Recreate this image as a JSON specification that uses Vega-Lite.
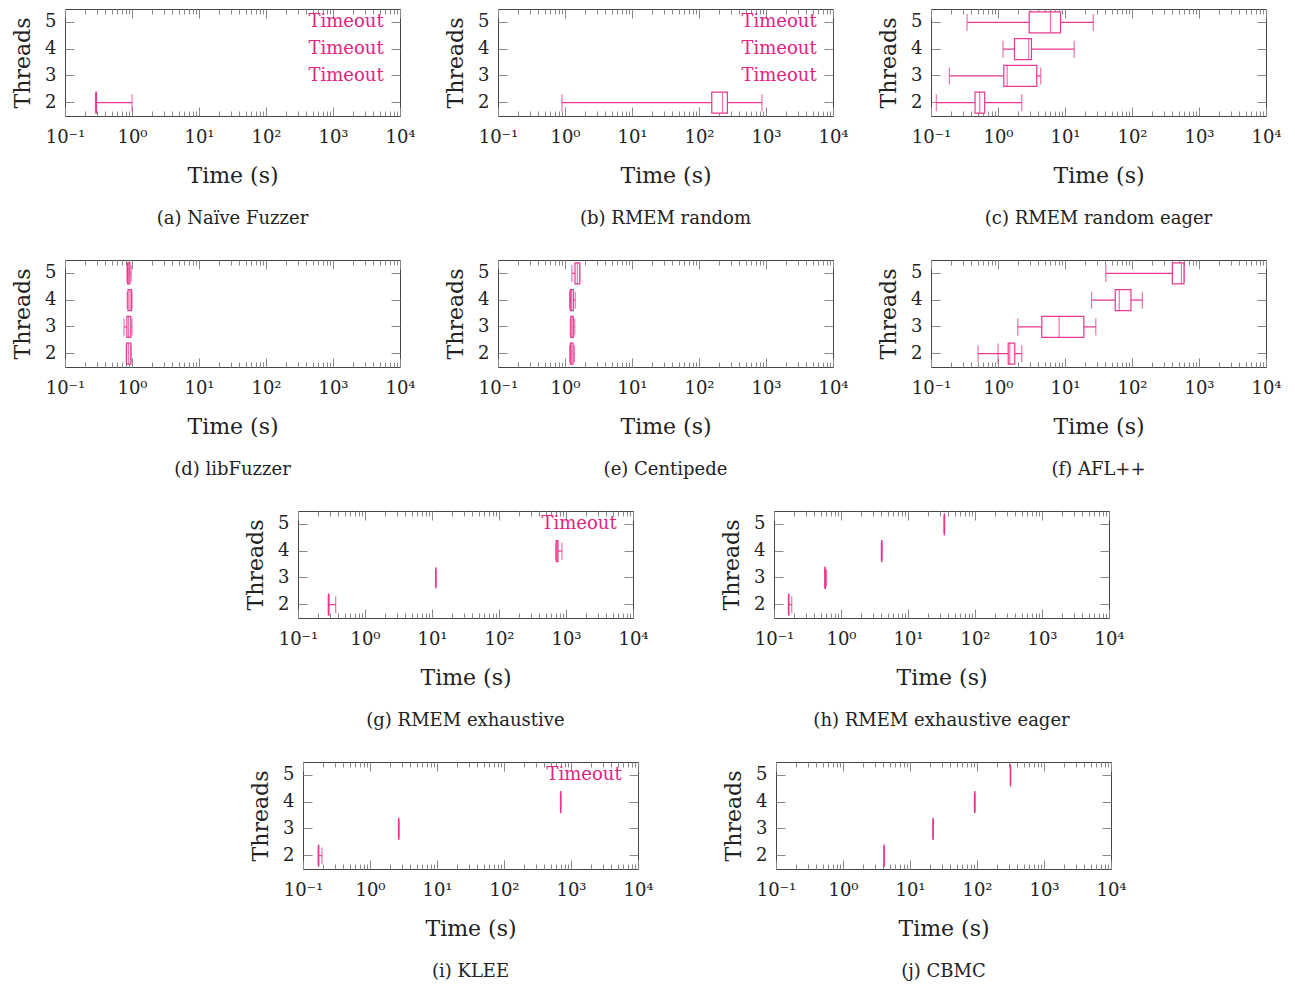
{
"$schema": "https://vega.github.io/schema/vega-lite/v6.json",
"padding": {"left": 11, "top": 8, "right": 5, "bottom": 5},
"background": "white",
"config": {
  "font": "DejaVu Serif",
  "view": {"stroke": "#444", "strokeWidth": 1},
  "axis": {"labelFont": "DejaVu Serif", "titleFont": "DejaVu Serif", "labelFontSize": 18, "titleFontSize": 22, "titleFontWeight": "normal", "labelColor": "#222", "titleColor": "#222", "tickColor": "#888", "domain": false, "grid": false},
  "title": {"font": "DejaVu Serif", "fontSize": 18, "fontWeight": "normal", "orient": "bottom", "anchor": "middle", "frame": "group", "color": "#222", "offset": 24}
},
"datasets": {
  "box": [
    {"panel": "a", "threads": 2, "lw": 0.285, "q1": 0.29, "med": 0.29, "q3": 0.295, "uw": 1.0},
    {"panel": "b", "threads": 2, "lw": 0.9, "q1": 155, "med": 224, "q3": 265, "uw": 870},
    {"panel": "c", "threads": 5, "lw": 0.345, "q1": 2.92, "med": 6.07, "q3": 8.57, "uw": 26.4},
    {"panel": "c", "threads": 4, "lw": 1.19, "q1": 1.76, "med": 2.88, "q3": 3.16, "uw": 13.7},
    {"panel": "c", "threads": 3, "lw": 0.188, "q1": 1.22, "med": 1.37, "q3": 3.79, "uw": 4.35},
    {"panel": "c", "threads": 2, "lw": 0.12, "q1": 0.454, "med": 0.533, "q3": 0.633, "uw": 2.26},
    {"panel": "d", "threads": 5, "lw": 0.84, "q1": 0.86, "med": 0.89, "q3": 0.93, "uw": 0.97},
    {"panel": "d", "threads": 4, "lw": 0.85, "q1": 0.87, "med": 0.93, "q3": 0.98, "uw": 1.0},
    {"panel": "d", "threads": 3, "lw": 0.76, "q1": 0.84, "med": 0.89, "q3": 0.96, "uw": 1.0},
    {"panel": "d", "threads": 2, "lw": 0.82, "q1": 0.83, "med": 0.89, "q3": 0.96, "uw": 0.97},
    {"panel": "e", "threads": 5, "lw": 1.27, "q1": 1.41, "med": 1.53, "q3": 1.66, "uw": 1.66},
    {"panel": "e", "threads": 4, "lw": 1.17, "q1": 1.2, "med": 1.25, "q3": 1.33, "uw": 1.42},
    {"panel": "e", "threads": 3, "lw": 1.2, "q1": 1.22, "med": 1.27, "q3": 1.33, "uw": 1.4},
    {"panel": "e", "threads": 2, "lw": 1.18, "q1": 1.2, "med": 1.25, "q3": 1.32, "uw": 1.38},
    {"panel": "f", "threads": 5, "lw": 40.7, "q1": 400, "med": 546, "q3": 597, "uw": 600},
    {"panel": "f", "threads": 4, "lw": 24.9, "q1": 56.2, "med": 64.6, "q3": 96.4, "uw": 142.6},
    {"panel": "f", "threads": 3, "lw": 1.97, "q1": 4.5, "med": 8.18, "q3": 19.1, "uw": 28.8},
    {"panel": "f", "threads": 2, "lw": 0.504, "q1": 1.42, "med": 1.5, "q3": 1.78, "uw": 2.26},
    {"panel": "g", "threads": 2, "lw": 0.284, "q1": 0.285, "med": 0.285, "q3": 0.29, "uw": 0.365},
    {"panel": "g", "threads": 3, "lw": 11.3, "q1": 11.4, "med": 11.4, "q3": 11.4, "uw": 11.5},
    {"panel": "g", "threads": 4, "lw": 705, "q1": 715, "med": 740, "q3": 760, "uw": 870},
    {"panel": "h", "threads": 2, "lw": 0.164, "q1": 0.165, "med": 0.165, "q3": 0.167, "uw": 0.184},
    {"panel": "h", "threads": 3, "lw": 0.571, "q1": 0.575, "med": 0.58, "q3": 0.585, "uw": 0.61},
    {"panel": "h", "threads": 4, "lw": 4.0, "q1": 4.03, "med": 4.05, "q3": 4.07, "uw": 4.1},
    {"panel": "h", "threads": 5, "lw": 34.5, "q1": 34.8, "med": 34.9, "q3": 35.0, "uw": 35.3},
    {"panel": "i", "threads": 2, "lw": 0.169, "q1": 0.17, "med": 0.17, "q3": 0.172, "uw": 0.192},
    {"panel": "i", "threads": 3, "lw": 2.65, "q1": 2.67, "med": 2.68, "q3": 2.69, "uw": 2.71},
    {"panel": "i", "threads": 4, "lw": 695, "q1": 700, "med": 701, "q3": 703, "uw": 708},
    {"panel": "j", "threads": 2, "lw": 4.08, "q1": 4.1, "med": 4.12, "q3": 4.14, "uw": 4.16},
    {"panel": "j", "threads": 3, "lw": 22.0, "q1": 22.1, "med": 22.1, "q3": 22.2, "uw": 22.3},
    {"panel": "j", "threads": 4, "lw": 91, "q1": 92, "med": 92, "q3": 93, "uw": 93.5},
    {"panel": "j", "threads": 5, "lw": 314, "q1": 316, "med": 316, "q3": 317, "uw": 318}
  ],
  "timeout": [
    {"panel": "a", "threads": 5, "label": "Timeout"},
    {"panel": "a", "threads": 4, "label": "Timeout"},
    {"panel": "a", "threads": 3, "label": "Timeout"},
    {"panel": "b", "threads": 5, "label": "Timeout"},
    {"panel": "b", "threads": 4, "label": "Timeout"},
    {"panel": "b", "threads": 3, "label": "Timeout"},
    {"panel": "g", "threads": 5, "label": "Timeout"},
    {"panel": "i", "threads": 5, "label": "Timeout"}
  ],
  "outlier": [
    {"panel": "f", "threads": 2, "value": 1.0}
  ]
},
"spacing": 30,
"vconcat": [
{"hconcat": [
{"width": 335, "height": 107, "title": "(a) Naïve Fuzzer", "data": {"name": "box"}, "transform": [{"filter": "datum.panel == 'a'"}],
 "layer": [
  {"mark": {"type": "rule", "color": "#e8388f", "strokeWidth": 1.2}, "encoding": {"x": {"field": "lw", "type": "quantitative", "scale": {"type": "log", "domain": [0.1, 10000], "nice": false}, "axis": {"orient": "bottom", "values": [0.1,0.2,0.3,0.4,0.5,0.6,0.7,0.8,0.9,1,2,3,4,5,6,7,8,9,10,20,30,40,50,60,70,80,90,100,200,300,400,500,600,700,800,900,1000,2000,3000,4000,5000,6000,7000,8000,9000,10000], "labelExpr": "datum.value == 0.1 ? '10⁻¹' : datum.value == 1 ? '10⁰' : datum.value == 10 ? '10¹' : datum.value == 100 ? '10²' : datum.value == 1000 ? '10³' : datum.value == 10000 ? '10⁴' : ''", "tickSize": {"condition": {"test": "datum.value == 0.1 || datum.value == 1 || datum.value == 10 || datum.value == 100 || datum.value == 1000 || datum.value == 10000", "value": -9}, "value": -5}, "title": "Time (s)", "labelFlush": false, "labelOverlap": false, "labelPadding": 21, "titlePadding": 15}}, "x2": {"field": "uw"}, "y": {"field": "threads", "type": "ordinal", "scale": {"type": "band", "domain": [5,4,3,2], "paddingInner": 0, "paddingOuter": 0}, "axis": {"orient": "left", "title": "Threads", "tickSize": -9, "labelPadding": 18, "labelAngle": 0, "titlePadding": 10}}}},
  {"mark": {"type": "tick", "size": 17, "thickness": 1.2, "color": "#e8388f"}, "encoding": {"x": {"field": "lw", "type": "quantitative", "scale": {"type": "log", "domain": [0.1, 10000], "nice": false}, "axis": null}, "y": {"field": "threads", "type": "ordinal", "scale": {"type": "band", "domain": [5,4,3,2], "paddingInner": 0, "paddingOuter": 0}, "axis": null}}},
  {"mark": {"type": "tick", "size": 17, "thickness": 1.2, "color": "#e8388f"}, "encoding": {"x": {"field": "uw", "type": "quantitative", "scale": {"type": "log", "domain": [0.1, 10000], "nice": false}, "axis": null}, "y": {"field": "threads", "type": "ordinal", "scale": {"type": "band", "domain": [5,4,3,2], "paddingInner": 0, "paddingOuter": 0}, "axis": null}}},
  {"mark": {"type": "bar", "height": {"band": 0.78}, "fill": "white", "stroke": "#e8388f", "strokeWidth": 1.2}, "encoding": {"x": {"field": "q1", "type": "quantitative", "scale": {"type": "log", "domain": [0.1, 10000], "nice": false}, "axis": null}, "x2": {"field": "q3"}, "y": {"field": "threads", "type": "ordinal", "scale": {"type": "band", "domain": [5,4,3,2], "paddingInner": 0, "paddingOuter": 0}, "axis": null}}},
  {"mark": {"type": "tick", "size": 21, "thickness": 1.2, "color": "#e8388f"}, "encoding": {"x": {"field": "med", "type": "quantitative", "scale": {"type": "log", "domain": [0.1, 10000], "nice": false}, "axis": {"orient": "top", "values": [0.1,0.2,0.3,0.4,0.5,0.6,0.7,0.8,0.9,1,2,3,4,5,6,7,8,9,10,20,30,40,50,60,70,80,90,100,200,300,400,500,600,700,800,900,1000,2000,3000,4000,5000,6000,7000,8000,9000,10000], "labels": false, "title": null, "tickSize": {"condition": {"test": "datum.value == 0.1 || datum.value == 1 || datum.value == 10 || datum.value == 100 || datum.value == 1000 || datum.value == 10000", "value": -9}, "value": -5}}}, "y": {"field": "threads", "type": "ordinal", "scale": {"type": "band", "domain": [5,4,3,2], "paddingInner": 0, "paddingOuter": 0}, "axis": {"orient": "right", "labels": false, "title": null, "tickSize": -9}}}},
  {"data": {"name": "timeout"}, "transform": [{"filter": "datum.panel == 'a'"}], "mark": {"type": "text", "align": "right", "baseline": "middle", "color": "#e3237f", "fontSize": 18}, "encoding": {"x": {"datum": 5700, "type": "quantitative", "scale": {"type": "log", "domain": [0.1, 10000], "nice": false}, "axis": null}, "y": {"field": "threads", "type": "ordinal", "scale": {"type": "band", "domain": [5,4,3,2], "paddingInner": 0, "paddingOuter": 0}, "axis": null}, "text": {"field": "label"}}}
 ],
 "resolve": {"axis": {"x": "independent", "y": "independent"}}
},
{"width": 335, "height": 107, "title": "(b) RMEM random", "data": {"name": "box"}, "transform": [{"filter": "datum.panel == 'b'"}],
 "layer": [
  {"mark": {"type": "rule", "color": "#e8388f", "strokeWidth": 1.2}, "encoding": {"x": {"field": "lw", "type": "quantitative", "scale": {"type": "log", "domain": [0.1, 10000], "nice": false}, "axis": {"orient": "bottom", "values": [0.1,0.2,0.3,0.4,0.5,0.6,0.7,0.8,0.9,1,2,3,4,5,6,7,8,9,10,20,30,40,50,60,70,80,90,100,200,300,400,500,600,700,800,900,1000,2000,3000,4000,5000,6000,7000,8000,9000,10000], "labelExpr": "datum.value == 0.1 ? '10⁻¹' : datum.value == 1 ? '10⁰' : datum.value == 10 ? '10¹' : datum.value == 100 ? '10²' : datum.value == 1000 ? '10³' : datum.value == 10000 ? '10⁴' : ''", "tickSize": {"condition": {"test": "datum.value == 0.1 || datum.value == 1 || datum.value == 10 || datum.value == 100 || datum.value == 1000 || datum.value == 10000", "value": -9}, "value": -5}, "title": "Time (s)", "labelFlush": false, "labelOverlap": false, "labelPadding": 21, "titlePadding": 15}}, "x2": {"field": "uw"}, "y": {"field": "threads", "type": "ordinal", "scale": {"type": "band", "domain": [5,4,3,2], "paddingInner": 0, "paddingOuter": 0}, "axis": {"orient": "left", "title": "Threads", "tickSize": -9, "labelPadding": 18, "labelAngle": 0, "titlePadding": 10}}}},
  {"mark": {"type": "tick", "size": 17, "thickness": 1.2, "color": "#e8388f"}, "encoding": {"x": {"field": "lw", "type": "quantitative", "scale": {"type": "log", "domain": [0.1, 10000], "nice": false}, "axis": null}, "y": {"field": "threads", "type": "ordinal", "scale": {"type": "band", "domain": [5,4,3,2], "paddingInner": 0, "paddingOuter": 0}, "axis": null}}},
  {"mark": {"type": "tick", "size": 17, "thickness": 1.2, "color": "#e8388f"}, "encoding": {"x": {"field": "uw", "type": "quantitative", "scale": {"type": "log", "domain": [0.1, 10000], "nice": false}, "axis": null}, "y": {"field": "threads", "type": "ordinal", "scale": {"type": "band", "domain": [5,4,3,2], "paddingInner": 0, "paddingOuter": 0}, "axis": null}}},
  {"mark": {"type": "bar", "height": {"band": 0.78}, "fill": "white", "stroke": "#e8388f", "strokeWidth": 1.2}, "encoding": {"x": {"field": "q1", "type": "quantitative", "scale": {"type": "log", "domain": [0.1, 10000], "nice": false}, "axis": null}, "x2": {"field": "q3"}, "y": {"field": "threads", "type": "ordinal", "scale": {"type": "band", "domain": [5,4,3,2], "paddingInner": 0, "paddingOuter": 0}, "axis": null}}},
  {"mark": {"type": "tick", "size": 21, "thickness": 1.2, "color": "#e8388f"}, "encoding": {"x": {"field": "med", "type": "quantitative", "scale": {"type": "log", "domain": [0.1, 10000], "nice": false}, "axis": {"orient": "top", "values": [0.1,0.2,0.3,0.4,0.5,0.6,0.7,0.8,0.9,1,2,3,4,5,6,7,8,9,10,20,30,40,50,60,70,80,90,100,200,300,400,500,600,700,800,900,1000,2000,3000,4000,5000,6000,7000,8000,9000,10000], "labels": false, "title": null, "tickSize": {"condition": {"test": "datum.value == 0.1 || datum.value == 1 || datum.value == 10 || datum.value == 100 || datum.value == 1000 || datum.value == 10000", "value": -9}, "value": -5}}}, "y": {"field": "threads", "type": "ordinal", "scale": {"type": "band", "domain": [5,4,3,2], "paddingInner": 0, "paddingOuter": 0}, "axis": {"orient": "right", "labels": false, "title": null, "tickSize": -9}}}},
  {"data": {"name": "timeout"}, "transform": [{"filter": "datum.panel == 'b'"}], "mark": {"type": "text", "align": "right", "baseline": "middle", "color": "#e3237f", "fontSize": 18}, "encoding": {"x": {"datum": 5700, "type": "quantitative", "scale": {"type": "log", "domain": [0.1, 10000], "nice": false}, "axis": null}, "y": {"field": "threads", "type": "ordinal", "scale": {"type": "band", "domain": [5,4,3,2], "paddingInner": 0, "paddingOuter": 0}, "axis": null}, "text": {"field": "label"}}}
 ],
 "resolve": {"axis": {"x": "independent", "y": "independent"}}
},
{"width": 335, "height": 107, "title": "(c) RMEM random eager", "data": {"name": "box"}, "transform": [{"filter": "datum.panel == 'c'"}],
 "layer": [
  {"mark": {"type": "rule", "color": "#e8388f", "strokeWidth": 1.2}, "encoding": {"x": {"field": "lw", "type": "quantitative", "scale": {"type": "log", "domain": [0.1, 10000], "nice": false}, "axis": {"orient": "bottom", "values": [0.1,0.2,0.3,0.4,0.5,0.6,0.7,0.8,0.9,1,2,3,4,5,6,7,8,9,10,20,30,40,50,60,70,80,90,100,200,300,400,500,600,700,800,900,1000,2000,3000,4000,5000,6000,7000,8000,9000,10000], "labelExpr": "datum.value == 0.1 ? '10⁻¹' : datum.value == 1 ? '10⁰' : datum.value == 10 ? '10¹' : datum.value == 100 ? '10²' : datum.value == 1000 ? '10³' : datum.value == 10000 ? '10⁴' : ''", "tickSize": {"condition": {"test": "datum.value == 0.1 || datum.value == 1 || datum.value == 10 || datum.value == 100 || datum.value == 1000 || datum.value == 10000", "value": -9}, "value": -5}, "title": "Time (s)", "labelFlush": false, "labelOverlap": false, "labelPadding": 21, "titlePadding": 15}}, "x2": {"field": "uw"}, "y": {"field": "threads", "type": "ordinal", "scale": {"type": "band", "domain": [5,4,3,2], "paddingInner": 0, "paddingOuter": 0}, "axis": {"orient": "left", "title": "Threads", "tickSize": -9, "labelPadding": 18, "labelAngle": 0, "titlePadding": 10}}}},
  {"mark": {"type": "tick", "size": 17, "thickness": 1.2, "color": "#e8388f"}, "encoding": {"x": {"field": "lw", "type": "quantitative", "scale": {"type": "log", "domain": [0.1, 10000], "nice": false}, "axis": null}, "y": {"field": "threads", "type": "ordinal", "scale": {"type": "band", "domain": [5,4,3,2], "paddingInner": 0, "paddingOuter": 0}, "axis": null}}},
  {"mark": {"type": "tick", "size": 17, "thickness": 1.2, "color": "#e8388f"}, "encoding": {"x": {"field": "uw", "type": "quantitative", "scale": {"type": "log", "domain": [0.1, 10000], "nice": false}, "axis": null}, "y": {"field": "threads", "type": "ordinal", "scale": {"type": "band", "domain": [5,4,3,2], "paddingInner": 0, "paddingOuter": 0}, "axis": null}}},
  {"mark": {"type": "bar", "height": {"band": 0.78}, "fill": "white", "stroke": "#e8388f", "strokeWidth": 1.2}, "encoding": {"x": {"field": "q1", "type": "quantitative", "scale": {"type": "log", "domain": [0.1, 10000], "nice": false}, "axis": null}, "x2": {"field": "q3"}, "y": {"field": "threads", "type": "ordinal", "scale": {"type": "band", "domain": [5,4,3,2], "paddingInner": 0, "paddingOuter": 0}, "axis": null}}},
  {"mark": {"type": "tick", "size": 21, "thickness": 1.2, "color": "#e8388f"}, "encoding": {"x": {"field": "med", "type": "quantitative", "scale": {"type": "log", "domain": [0.1, 10000], "nice": false}, "axis": {"orient": "top", "values": [0.1,0.2,0.3,0.4,0.5,0.6,0.7,0.8,0.9,1,2,3,4,5,6,7,8,9,10,20,30,40,50,60,70,80,90,100,200,300,400,500,600,700,800,900,1000,2000,3000,4000,5000,6000,7000,8000,9000,10000], "labels": false, "title": null, "tickSize": {"condition": {"test": "datum.value == 0.1 || datum.value == 1 || datum.value == 10 || datum.value == 100 || datum.value == 1000 || datum.value == 10000", "value": -9}, "value": -5}}}, "y": {"field": "threads", "type": "ordinal", "scale": {"type": "band", "domain": [5,4,3,2], "paddingInner": 0, "paddingOuter": 0}, "axis": {"orient": "right", "labels": false, "title": null, "tickSize": -9}}}}
 ],
 "resolve": {"axis": {"x": "independent", "y": "independent"}}
}
], "spacing": 98, "bounds": "flush"},
{"hconcat": [
{"width": 335, "height": 107, "title": "(d) libFuzzer", "data": {"name": "box"}, "transform": [{"filter": "datum.panel == 'd'"}],
 "layer": [
  {"mark": {"type": "rule", "color": "#e8388f", "strokeWidth": 1.2}, "encoding": {"x": {"field": "lw", "type": "quantitative", "scale": {"type": "log", "domain": [0.1, 10000], "nice": false}, "axis": {"orient": "bottom", "values": [0.1,0.2,0.3,0.4,0.5,0.6,0.7,0.8,0.9,1,2,3,4,5,6,7,8,9,10,20,30,40,50,60,70,80,90,100,200,300,400,500,600,700,800,900,1000,2000,3000,4000,5000,6000,7000,8000,9000,10000], "labelExpr": "datum.value == 0.1 ? '10⁻¹' : datum.value == 1 ? '10⁰' : datum.value == 10 ? '10¹' : datum.value == 100 ? '10²' : datum.value == 1000 ? '10³' : datum.value == 10000 ? '10⁴' : ''", "tickSize": {"condition": {"test": "datum.value == 0.1 || datum.value == 1 || datum.value == 10 || datum.value == 100 || datum.value == 1000 || datum.value == 10000", "value": -9}, "value": -5}, "title": "Time (s)", "labelFlush": false, "labelOverlap": false, "labelPadding": 21, "titlePadding": 15}}, "x2": {"field": "uw"}, "y": {"field": "threads", "type": "ordinal", "scale": {"type": "band", "domain": [5,4,3,2], "paddingInner": 0, "paddingOuter": 0}, "axis": {"orient": "left", "title": "Threads", "tickSize": -9, "labelPadding": 18, "labelAngle": 0, "titlePadding": 10}}}},
  {"mark": {"type": "tick", "size": 17, "thickness": 1.2, "color": "#e8388f"}, "encoding": {"x": {"field": "lw", "type": "quantitative", "scale": {"type": "log", "domain": [0.1, 10000], "nice": false}, "axis": null}, "y": {"field": "threads", "type": "ordinal", "scale": {"type": "band", "domain": [5,4,3,2], "paddingInner": 0, "paddingOuter": 0}, "axis": null}}},
  {"mark": {"type": "tick", "size": 17, "thickness": 1.2, "color": "#e8388f"}, "encoding": {"x": {"field": "uw", "type": "quantitative", "scale": {"type": "log", "domain": [0.1, 10000], "nice": false}, "axis": null}, "y": {"field": "threads", "type": "ordinal", "scale": {"type": "band", "domain": [5,4,3,2], "paddingInner": 0, "paddingOuter": 0}, "axis": null}}},
  {"mark": {"type": "bar", "height": {"band": 0.78}, "fill": "white", "stroke": "#e8388f", "strokeWidth": 1.2}, "encoding": {"x": {"field": "q1", "type": "quantitative", "scale": {"type": "log", "domain": [0.1, 10000], "nice": false}, "axis": null}, "x2": {"field": "q3"}, "y": {"field": "threads", "type": "ordinal", "scale": {"type": "band", "domain": [5,4,3,2], "paddingInner": 0, "paddingOuter": 0}, "axis": null}}},
  {"mark": {"type": "tick", "size": 21, "thickness": 1.2, "color": "#e8388f"}, "encoding": {"x": {"field": "med", "type": "quantitative", "scale": {"type": "log", "domain": [0.1, 10000], "nice": false}, "axis": {"orient": "top", "values": [0.1,0.2,0.3,0.4,0.5,0.6,0.7,0.8,0.9,1,2,3,4,5,6,7,8,9,10,20,30,40,50,60,70,80,90,100,200,300,400,500,600,700,800,900,1000,2000,3000,4000,5000,6000,7000,8000,9000,10000], "labels": false, "title": null, "tickSize": {"condition": {"test": "datum.value == 0.1 || datum.value == 1 || datum.value == 10 || datum.value == 100 || datum.value == 1000 || datum.value == 10000", "value": -9}, "value": -5}}}, "y": {"field": "threads", "type": "ordinal", "scale": {"type": "band", "domain": [5,4,3,2], "paddingInner": 0, "paddingOuter": 0}, "axis": {"orient": "right", "labels": false, "title": null, "tickSize": -9}}}}
 ],
 "resolve": {"axis": {"x": "independent", "y": "independent"}}
},
{"width": 335, "height": 107, "title": "(e) Centipede", "data": {"name": "box"}, "transform": [{"filter": "datum.panel == 'e'"}],
 "layer": [
  {"mark": {"type": "rule", "color": "#e8388f", "strokeWidth": 1.2}, "encoding": {"x": {"field": "lw", "type": "quantitative", "scale": {"type": "log", "domain": [0.1, 10000], "nice": false}, "axis": {"orient": "bottom", "values": [0.1,0.2,0.3,0.4,0.5,0.6,0.7,0.8,0.9,1,2,3,4,5,6,7,8,9,10,20,30,40,50,60,70,80,90,100,200,300,400,500,600,700,800,900,1000,2000,3000,4000,5000,6000,7000,8000,9000,10000], "labelExpr": "datum.value == 0.1 ? '10⁻¹' : datum.value == 1 ? '10⁰' : datum.value == 10 ? '10¹' : datum.value == 100 ? '10²' : datum.value == 1000 ? '10³' : datum.value == 10000 ? '10⁴' : ''", "tickSize": {"condition": {"test": "datum.value == 0.1 || datum.value == 1 || datum.value == 10 || datum.value == 100 || datum.value == 1000 || datum.value == 10000", "value": -9}, "value": -5}, "title": "Time (s)", "labelFlush": false, "labelOverlap": false, "labelPadding": 21, "titlePadding": 15}}, "x2": {"field": "uw"}, "y": {"field": "threads", "type": "ordinal", "scale": {"type": "band", "domain": [5,4,3,2], "paddingInner": 0, "paddingOuter": 0}, "axis": {"orient": "left", "title": "Threads", "tickSize": -9, "labelPadding": 18, "labelAngle": 0, "titlePadding": 10}}}},
  {"mark": {"type": "tick", "size": 17, "thickness": 1.2, "color": "#e8388f"}, "encoding": {"x": {"field": "lw", "type": "quantitative", "scale": {"type": "log", "domain": [0.1, 10000], "nice": false}, "axis": null}, "y": {"field": "threads", "type": "ordinal", "scale": {"type": "band", "domain": [5,4,3,2], "paddingInner": 0, "paddingOuter": 0}, "axis": null}}},
  {"mark": {"type": "tick", "size": 17, "thickness": 1.2, "color": "#e8388f"}, "encoding": {"x": {"field": "uw", "type": "quantitative", "scale": {"type": "log", "domain": [0.1, 10000], "nice": false}, "axis": null}, "y": {"field": "threads", "type": "ordinal", "scale": {"type": "band", "domain": [5,4,3,2], "paddingInner": 0, "paddingOuter": 0}, "axis": null}}},
  {"mark": {"type": "bar", "height": {"band": 0.78}, "fill": "white", "stroke": "#e8388f", "strokeWidth": 1.2}, "encoding": {"x": {"field": "q1", "type": "quantitative", "scale": {"type": "log", "domain": [0.1, 10000], "nice": false}, "axis": null}, "x2": {"field": "q3"}, "y": {"field": "threads", "type": "ordinal", "scale": {"type": "band", "domain": [5,4,3,2], "paddingInner": 0, "paddingOuter": 0}, "axis": null}}},
  {"mark": {"type": "tick", "size": 21, "thickness": 1.2, "color": "#e8388f"}, "encoding": {"x": {"field": "med", "type": "quantitative", "scale": {"type": "log", "domain": [0.1, 10000], "nice": false}, "axis": {"orient": "top", "values": [0.1,0.2,0.3,0.4,0.5,0.6,0.7,0.8,0.9,1,2,3,4,5,6,7,8,9,10,20,30,40,50,60,70,80,90,100,200,300,400,500,600,700,800,900,1000,2000,3000,4000,5000,6000,7000,8000,9000,10000], "labels": false, "title": null, "tickSize": {"condition": {"test": "datum.value == 0.1 || datum.value == 1 || datum.value == 10 || datum.value == 100 || datum.value == 1000 || datum.value == 10000", "value": -9}, "value": -5}}}, "y": {"field": "threads", "type": "ordinal", "scale": {"type": "band", "domain": [5,4,3,2], "paddingInner": 0, "paddingOuter": 0}, "axis": {"orient": "right", "labels": false, "title": null, "tickSize": -9}}}}
 ],
 "resolve": {"axis": {"x": "independent", "y": "independent"}}
},
{"width": 335, "height": 107, "title": "(f) AFL++", "data": {"name": "box"}, "transform": [{"filter": "datum.panel == 'f'"}],
 "layer": [
  {"mark": {"type": "rule", "color": "#e8388f", "strokeWidth": 1.2}, "encoding": {"x": {"field": "lw", "type": "quantitative", "scale": {"type": "log", "domain": [0.1, 10000], "nice": false}, "axis": {"orient": "bottom", "values": [0.1,0.2,0.3,0.4,0.5,0.6,0.7,0.8,0.9,1,2,3,4,5,6,7,8,9,10,20,30,40,50,60,70,80,90,100,200,300,400,500,600,700,800,900,1000,2000,3000,4000,5000,6000,7000,8000,9000,10000], "labelExpr": "datum.value == 0.1 ? '10⁻¹' : datum.value == 1 ? '10⁰' : datum.value == 10 ? '10¹' : datum.value == 100 ? '10²' : datum.value == 1000 ? '10³' : datum.value == 10000 ? '10⁴' : ''", "tickSize": {"condition": {"test": "datum.value == 0.1 || datum.value == 1 || datum.value == 10 || datum.value == 100 || datum.value == 1000 || datum.value == 10000", "value": -9}, "value": -5}, "title": "Time (s)", "labelFlush": false, "labelOverlap": false, "labelPadding": 21, "titlePadding": 15}}, "x2": {"field": "uw"}, "y": {"field": "threads", "type": "ordinal", "scale": {"type": "band", "domain": [5,4,3,2], "paddingInner": 0, "paddingOuter": 0}, "axis": {"orient": "left", "title": "Threads", "tickSize": -9, "labelPadding": 18, "labelAngle": 0, "titlePadding": 10}}}},
  {"mark": {"type": "tick", "size": 17, "thickness": 1.2, "color": "#e8388f"}, "encoding": {"x": {"field": "lw", "type": "quantitative", "scale": {"type": "log", "domain": [0.1, 10000], "nice": false}, "axis": null}, "y": {"field": "threads", "type": "ordinal", "scale": {"type": "band", "domain": [5,4,3,2], "paddingInner": 0, "paddingOuter": 0}, "axis": null}}},
  {"mark": {"type": "tick", "size": 17, "thickness": 1.2, "color": "#e8388f"}, "encoding": {"x": {"field": "uw", "type": "quantitative", "scale": {"type": "log", "domain": [0.1, 10000], "nice": false}, "axis": null}, "y": {"field": "threads", "type": "ordinal", "scale": {"type": "band", "domain": [5,4,3,2], "paddingInner": 0, "paddingOuter": 0}, "axis": null}}},
  {"mark": {"type": "bar", "height": {"band": 0.78}, "fill": "white", "stroke": "#e8388f", "strokeWidth": 1.2}, "encoding": {"x": {"field": "q1", "type": "quantitative", "scale": {"type": "log", "domain": [0.1, 10000], "nice": false}, "axis": null}, "x2": {"field": "q3"}, "y": {"field": "threads", "type": "ordinal", "scale": {"type": "band", "domain": [5,4,3,2], "paddingInner": 0, "paddingOuter": 0}, "axis": null}}},
  {"mark": {"type": "tick", "size": 21, "thickness": 1.2, "color": "#e8388f"}, "encoding": {"x": {"field": "med", "type": "quantitative", "scale": {"type": "log", "domain": [0.1, 10000], "nice": false}, "axis": {"orient": "top", "values": [0.1,0.2,0.3,0.4,0.5,0.6,0.7,0.8,0.9,1,2,3,4,5,6,7,8,9,10,20,30,40,50,60,70,80,90,100,200,300,400,500,600,700,800,900,1000,2000,3000,4000,5000,6000,7000,8000,9000,10000], "labels": false, "title": null, "tickSize": {"condition": {"test": "datum.value == 0.1 || datum.value == 1 || datum.value == 10 || datum.value == 100 || datum.value == 1000 || datum.value == 10000", "value": -9}, "value": -5}}}, "y": {"field": "threads", "type": "ordinal", "scale": {"type": "band", "domain": [5,4,3,2], "paddingInner": 0, "paddingOuter": 0}, "axis": {"orient": "right", "labels": false, "title": null, "tickSize": -9}}}},
  {"data": {"name": "outlier"}, "transform": [{"filter": "datum.panel == 'f'"}], "mark": {"type": "tick", "size": 21, "thickness": 1.2, "color": "#e8388f"}, "encoding": {"x": {"field": "value", "type": "quantitative", "scale": {"type": "log", "domain": [0.1, 10000], "nice": false}, "axis": null}, "y": {"field": "threads", "type": "ordinal", "scale": {"type": "band", "domain": [5,4,3,2], "paddingInner": 0, "paddingOuter": 0}, "axis": null}}}
 ],
 "resolve": {"axis": {"x": "independent", "y": "independent"}}
}
], "spacing": 98, "bounds": "flush"},
{"hconcat": [
{"width": 92, "height": 107, "data": {"values": []}, "mark": "point", "encoding": {}, "view": {"stroke": null}},
{"width": 335, "height": 107, "title": "(g) RMEM exhaustive", "data": {"name": "box"}, "transform": [{"filter": "datum.panel == 'g'"}],
 "layer": [
  {"mark": {"type": "rule", "color": "#e8388f", "strokeWidth": 1.2}, "encoding": {"x": {"field": "lw", "type": "quantitative", "scale": {"type": "log", "domain": [0.1, 10000], "nice": false}, "axis": {"orient": "bottom", "values": [0.1,0.2,0.3,0.4,0.5,0.6,0.7,0.8,0.9,1,2,3,4,5,6,7,8,9,10,20,30,40,50,60,70,80,90,100,200,300,400,500,600,700,800,900,1000,2000,3000,4000,5000,6000,7000,8000,9000,10000], "labelExpr": "datum.value == 0.1 ? '10⁻¹' : datum.value == 1 ? '10⁰' : datum.value == 10 ? '10¹' : datum.value == 100 ? '10²' : datum.value == 1000 ? '10³' : datum.value == 10000 ? '10⁴' : ''", "tickSize": {"condition": {"test": "datum.value == 0.1 || datum.value == 1 || datum.value == 10 || datum.value == 100 || datum.value == 1000 || datum.value == 10000", "value": -9}, "value": -5}, "title": "Time (s)", "labelFlush": false, "labelOverlap": false, "labelPadding": 21, "titlePadding": 15}}, "x2": {"field": "uw"}, "y": {"field": "threads", "type": "ordinal", "scale": {"type": "band", "domain": [5,4,3,2], "paddingInner": 0, "paddingOuter": 0}, "axis": {"orient": "left", "title": "Threads", "tickSize": -9, "labelPadding": 18, "labelAngle": 0, "titlePadding": 10}}}},
  {"mark": {"type": "tick", "size": 17, "thickness": 1.2, "color": "#e8388f"}, "encoding": {"x": {"field": "lw", "type": "quantitative", "scale": {"type": "log", "domain": [0.1, 10000], "nice": false}, "axis": null}, "y": {"field": "threads", "type": "ordinal", "scale": {"type": "band", "domain": [5,4,3,2], "paddingInner": 0, "paddingOuter": 0}, "axis": null}}},
  {"mark": {"type": "tick", "size": 17, "thickness": 1.2, "color": "#e8388f"}, "encoding": {"x": {"field": "uw", "type": "quantitative", "scale": {"type": "log", "domain": [0.1, 10000], "nice": false}, "axis": null}, "y": {"field": "threads", "type": "ordinal", "scale": {"type": "band", "domain": [5,4,3,2], "paddingInner": 0, "paddingOuter": 0}, "axis": null}}},
  {"mark": {"type": "bar", "height": {"band": 0.78}, "fill": "white", "stroke": "#e8388f", "strokeWidth": 1.2}, "encoding": {"x": {"field": "q1", "type": "quantitative", "scale": {"type": "log", "domain": [0.1, 10000], "nice": false}, "axis": null}, "x2": {"field": "q3"}, "y": {"field": "threads", "type": "ordinal", "scale": {"type": "band", "domain": [5,4,3,2], "paddingInner": 0, "paddingOuter": 0}, "axis": null}}},
  {"mark": {"type": "tick", "size": 21, "thickness": 1.2, "color": "#e8388f"}, "encoding": {"x": {"field": "med", "type": "quantitative", "scale": {"type": "log", "domain": [0.1, 10000], "nice": false}, "axis": {"orient": "top", "values": [0.1,0.2,0.3,0.4,0.5,0.6,0.7,0.8,0.9,1,2,3,4,5,6,7,8,9,10,20,30,40,50,60,70,80,90,100,200,300,400,500,600,700,800,900,1000,2000,3000,4000,5000,6000,7000,8000,9000,10000], "labels": false, "title": null, "tickSize": {"condition": {"test": "datum.value == 0.1 || datum.value == 1 || datum.value == 10 || datum.value == 100 || datum.value == 1000 || datum.value == 10000", "value": -9}, "value": -5}}}, "y": {"field": "threads", "type": "ordinal", "scale": {"type": "band", "domain": [5,4,3,2], "paddingInner": 0, "paddingOuter": 0}, "axis": {"orient": "right", "labels": false, "title": null, "tickSize": -9}}}},
  {"data": {"name": "timeout"}, "transform": [{"filter": "datum.panel == 'g'"}], "mark": {"type": "text", "align": "right", "baseline": "middle", "color": "#e3237f", "fontSize": 18}, "encoding": {"x": {"datum": 5700, "type": "quantitative", "scale": {"type": "log", "domain": [0.1, 10000], "nice": false}, "axis": null}, "y": {"field": "threads", "type": "ordinal", "scale": {"type": "band", "domain": [5,4,3,2], "paddingInner": 0, "paddingOuter": 0}, "axis": null}, "text": {"field": "label"}}}
 ],
 "resolve": {"axis": {"x": "independent", "y": "independent"}}
},
{"width": 335, "height": 107, "title": "(h) RMEM exhaustive eager", "data": {"name": "box"}, "transform": [{"filter": "datum.panel == 'h'"}],
 "layer": [
  {"mark": {"type": "rule", "color": "#e8388f", "strokeWidth": 1.2}, "encoding": {"x": {"field": "lw", "type": "quantitative", "scale": {"type": "log", "domain": [0.1, 10000], "nice": false}, "axis": {"orient": "bottom", "values": [0.1,0.2,0.3,0.4,0.5,0.6,0.7,0.8,0.9,1,2,3,4,5,6,7,8,9,10,20,30,40,50,60,70,80,90,100,200,300,400,500,600,700,800,900,1000,2000,3000,4000,5000,6000,7000,8000,9000,10000], "labelExpr": "datum.value == 0.1 ? '10⁻¹' : datum.value == 1 ? '10⁰' : datum.value == 10 ? '10¹' : datum.value == 100 ? '10²' : datum.value == 1000 ? '10³' : datum.value == 10000 ? '10⁴' : ''", "tickSize": {"condition": {"test": "datum.value == 0.1 || datum.value == 1 || datum.value == 10 || datum.value == 100 || datum.value == 1000 || datum.value == 10000", "value": -9}, "value": -5}, "title": "Time (s)", "labelFlush": false, "labelOverlap": false, "labelPadding": 21, "titlePadding": 15}}, "x2": {"field": "uw"}, "y": {"field": "threads", "type": "ordinal", "scale": {"type": "band", "domain": [5,4,3,2], "paddingInner": 0, "paddingOuter": 0}, "axis": {"orient": "left", "title": "Threads", "tickSize": -9, "labelPadding": 18, "labelAngle": 0, "titlePadding": 10}}}},
  {"mark": {"type": "tick", "size": 17, "thickness": 1.2, "color": "#e8388f"}, "encoding": {"x": {"field": "lw", "type": "quantitative", "scale": {"type": "log", "domain": [0.1, 10000], "nice": false}, "axis": null}, "y": {"field": "threads", "type": "ordinal", "scale": {"type": "band", "domain": [5,4,3,2], "paddingInner": 0, "paddingOuter": 0}, "axis": null}}},
  {"mark": {"type": "tick", "size": 17, "thickness": 1.2, "color": "#e8388f"}, "encoding": {"x": {"field": "uw", "type": "quantitative", "scale": {"type": "log", "domain": [0.1, 10000], "nice": false}, "axis": null}, "y": {"field": "threads", "type": "ordinal", "scale": {"type": "band", "domain": [5,4,3,2], "paddingInner": 0, "paddingOuter": 0}, "axis": null}}},
  {"mark": {"type": "bar", "height": {"band": 0.78}, "fill": "white", "stroke": "#e8388f", "strokeWidth": 1.2}, "encoding": {"x": {"field": "q1", "type": "quantitative", "scale": {"type": "log", "domain": [0.1, 10000], "nice": false}, "axis": null}, "x2": {"field": "q3"}, "y": {"field": "threads", "type": "ordinal", "scale": {"type": "band", "domain": [5,4,3,2], "paddingInner": 0, "paddingOuter": 0}, "axis": null}}},
  {"mark": {"type": "tick", "size": 21, "thickness": 1.2, "color": "#e8388f"}, "encoding": {"x": {"field": "med", "type": "quantitative", "scale": {"type": "log", "domain": [0.1, 10000], "nice": false}, "axis": {"orient": "top", "values": [0.1,0.2,0.3,0.4,0.5,0.6,0.7,0.8,0.9,1,2,3,4,5,6,7,8,9,10,20,30,40,50,60,70,80,90,100,200,300,400,500,600,700,800,900,1000,2000,3000,4000,5000,6000,7000,8000,9000,10000], "labels": false, "title": null, "tickSize": {"condition": {"test": "datum.value == 0.1 || datum.value == 1 || datum.value == 10 || datum.value == 100 || datum.value == 1000 || datum.value == 10000", "value": -9}, "value": -5}}}, "y": {"field": "threads", "type": "ordinal", "scale": {"type": "band", "domain": [5,4,3,2], "paddingInner": 0, "paddingOuter": 0}, "axis": {"orient": "right", "labels": false, "title": null, "tickSize": -9}}}}
 ],
 "resolve": {"axis": {"x": "independent", "y": "independent"}}
}
], "spacing": 141, "bounds": "flush"},
{"hconcat": [
{"width": 100, "height": 107, "data": {"values": []}, "mark": "point", "encoding": {}, "view": {"stroke": null}},
{"width": 335, "height": 107, "title": "(i) KLEE", "data": {"name": "box"}, "transform": [{"filter": "datum.panel == 'i'"}],
 "layer": [
  {"mark": {"type": "rule", "color": "#e8388f", "strokeWidth": 1.2}, "encoding": {"x": {"field": "lw", "type": "quantitative", "scale": {"type": "log", "domain": [0.1, 10000], "nice": false}, "axis": {"orient": "bottom", "values": [0.1,0.2,0.3,0.4,0.5,0.6,0.7,0.8,0.9,1,2,3,4,5,6,7,8,9,10,20,30,40,50,60,70,80,90,100,200,300,400,500,600,700,800,900,1000,2000,3000,4000,5000,6000,7000,8000,9000,10000], "labelExpr": "datum.value == 0.1 ? '10⁻¹' : datum.value == 1 ? '10⁰' : datum.value == 10 ? '10¹' : datum.value == 100 ? '10²' : datum.value == 1000 ? '10³' : datum.value == 10000 ? '10⁴' : ''", "tickSize": {"condition": {"test": "datum.value == 0.1 || datum.value == 1 || datum.value == 10 || datum.value == 100 || datum.value == 1000 || datum.value == 10000", "value": -9}, "value": -5}, "title": "Time (s)", "labelFlush": false, "labelOverlap": false, "labelPadding": 21, "titlePadding": 15}}, "x2": {"field": "uw"}, "y": {"field": "threads", "type": "ordinal", "scale": {"type": "band", "domain": [5,4,3,2], "paddingInner": 0, "paddingOuter": 0}, "axis": {"orient": "left", "title": "Threads", "tickSize": -9, "labelPadding": 18, "labelAngle": 0, "titlePadding": 10}}}},
  {"mark": {"type": "tick", "size": 17, "thickness": 1.2, "color": "#e8388f"}, "encoding": {"x": {"field": "lw", "type": "quantitative", "scale": {"type": "log", "domain": [0.1, 10000], "nice": false}, "axis": null}, "y": {"field": "threads", "type": "ordinal", "scale": {"type": "band", "domain": [5,4,3,2], "paddingInner": 0, "paddingOuter": 0}, "axis": null}}},
  {"mark": {"type": "tick", "size": 17, "thickness": 1.2, "color": "#e8388f"}, "encoding": {"x": {"field": "uw", "type": "quantitative", "scale": {"type": "log", "domain": [0.1, 10000], "nice": false}, "axis": null}, "y": {"field": "threads", "type": "ordinal", "scale": {"type": "band", "domain": [5,4,3,2], "paddingInner": 0, "paddingOuter": 0}, "axis": null}}},
  {"mark": {"type": "bar", "height": {"band": 0.78}, "fill": "white", "stroke": "#e8388f", "strokeWidth": 1.2}, "encoding": {"x": {"field": "q1", "type": "quantitative", "scale": {"type": "log", "domain": [0.1, 10000], "nice": false}, "axis": null}, "x2": {"field": "q3"}, "y": {"field": "threads", "type": "ordinal", "scale": {"type": "band", "domain": [5,4,3,2], "paddingInner": 0, "paddingOuter": 0}, "axis": null}}},
  {"mark": {"type": "tick", "size": 21, "thickness": 1.2, "color": "#e8388f"}, "encoding": {"x": {"field": "med", "type": "quantitative", "scale": {"type": "log", "domain": [0.1, 10000], "nice": false}, "axis": {"orient": "top", "values": [0.1,0.2,0.3,0.4,0.5,0.6,0.7,0.8,0.9,1,2,3,4,5,6,7,8,9,10,20,30,40,50,60,70,80,90,100,200,300,400,500,600,700,800,900,1000,2000,3000,4000,5000,6000,7000,8000,9000,10000], "labels": false, "title": null, "tickSize": {"condition": {"test": "datum.value == 0.1 || datum.value == 1 || datum.value == 10 || datum.value == 100 || datum.value == 1000 || datum.value == 10000", "value": -9}, "value": -5}}}, "y": {"field": "threads", "type": "ordinal", "scale": {"type": "band", "domain": [5,4,3,2], "paddingInner": 0, "paddingOuter": 0}, "axis": {"orient": "right", "labels": false, "title": null, "tickSize": -9}}}},
  {"data": {"name": "timeout"}, "transform": [{"filter": "datum.panel == 'i'"}], "mark": {"type": "text", "align": "right", "baseline": "middle", "color": "#e3237f", "fontSize": 18}, "encoding": {"x": {"datum": 5700, "type": "quantitative", "scale": {"type": "log", "domain": [0.1, 10000], "nice": false}, "axis": null}, "y": {"field": "threads", "type": "ordinal", "scale": {"type": "band", "domain": [5,4,3,2], "paddingInner": 0, "paddingOuter": 0}, "axis": null}, "text": {"field": "label"}}}
 ],
 "resolve": {"axis": {"x": "independent", "y": "independent"}}
},
{"width": 335, "height": 107, "title": "(j) CBMC", "data": {"name": "box"}, "transform": [{"filter": "datum.panel == 'j'"}],
 "layer": [
  {"mark": {"type": "rule", "color": "#e8388f", "strokeWidth": 1.2}, "encoding": {"x": {"field": "lw", "type": "quantitative", "scale": {"type": "log", "domain": [0.1, 10000], "nice": false}, "axis": {"orient": "bottom", "values": [0.1,0.2,0.3,0.4,0.5,0.6,0.7,0.8,0.9,1,2,3,4,5,6,7,8,9,10,20,30,40,50,60,70,80,90,100,200,300,400,500,600,700,800,900,1000,2000,3000,4000,5000,6000,7000,8000,9000,10000], "labelExpr": "datum.value == 0.1 ? '10⁻¹' : datum.value == 1 ? '10⁰' : datum.value == 10 ? '10¹' : datum.value == 100 ? '10²' : datum.value == 1000 ? '10³' : datum.value == 10000 ? '10⁴' : ''", "tickSize": {"condition": {"test": "datum.value == 0.1 || datum.value == 1 || datum.value == 10 || datum.value == 100 || datum.value == 1000 || datum.value == 10000", "value": -9}, "value": -5}, "title": "Time (s)", "labelFlush": false, "labelOverlap": false, "labelPadding": 21, "titlePadding": 15}}, "x2": {"field": "uw"}, "y": {"field": "threads", "type": "ordinal", "scale": {"type": "band", "domain": [5,4,3,2], "paddingInner": 0, "paddingOuter": 0}, "axis": {"orient": "left", "title": "Threads", "tickSize": -9, "labelPadding": 18, "labelAngle": 0, "titlePadding": 10}}}},
  {"mark": {"type": "tick", "size": 17, "thickness": 1.2, "color": "#e8388f"}, "encoding": {"x": {"field": "lw", "type": "quantitative", "scale": {"type": "log", "domain": [0.1, 10000], "nice": false}, "axis": null}, "y": {"field": "threads", "type": "ordinal", "scale": {"type": "band", "domain": [5,4,3,2], "paddingInner": 0, "paddingOuter": 0}, "axis": null}}},
  {"mark": {"type": "tick", "size": 17, "thickness": 1.2, "color": "#e8388f"}, "encoding": {"x": {"field": "uw", "type": "quantitative", "scale": {"type": "log", "domain": [0.1, 10000], "nice": false}, "axis": null}, "y": {"field": "threads", "type": "ordinal", "scale": {"type": "band", "domain": [5,4,3,2], "paddingInner": 0, "paddingOuter": 0}, "axis": null}}},
  {"mark": {"type": "bar", "height": {"band": 0.78}, "fill": "white", "stroke": "#e8388f", "strokeWidth": 1.2}, "encoding": {"x": {"field": "q1", "type": "quantitative", "scale": {"type": "log", "domain": [0.1, 10000], "nice": false}, "axis": null}, "x2": {"field": "q3"}, "y": {"field": "threads", "type": "ordinal", "scale": {"type": "band", "domain": [5,4,3,2], "paddingInner": 0, "paddingOuter": 0}, "axis": null}}},
  {"mark": {"type": "tick", "size": 21, "thickness": 1.2, "color": "#e8388f"}, "encoding": {"x": {"field": "med", "type": "quantitative", "scale": {"type": "log", "domain": [0.1, 10000], "nice": false}, "axis": {"orient": "top", "values": [0.1,0.2,0.3,0.4,0.5,0.6,0.7,0.8,0.9,1,2,3,4,5,6,7,8,9,10,20,30,40,50,60,70,80,90,100,200,300,400,500,600,700,800,900,1000,2000,3000,4000,5000,6000,7000,8000,9000,10000], "labels": false, "title": null, "tickSize": {"condition": {"test": "datum.value == 0.1 || datum.value == 1 || datum.value == 10 || datum.value == 100 || datum.value == 1000 || datum.value == 10000", "value": -9}, "value": -5}}}, "y": {"field": "threads", "type": "ordinal", "scale": {"type": "band", "domain": [5,4,3,2], "paddingInner": 0, "paddingOuter": 0}, "axis": {"orient": "right", "labels": false, "title": null, "tickSize": -9}}}}
 ],
 "resolve": {"axis": {"x": "independent", "y": "independent"}}
}
], "spacing": 138, "bounds": "flush"}
]
}
